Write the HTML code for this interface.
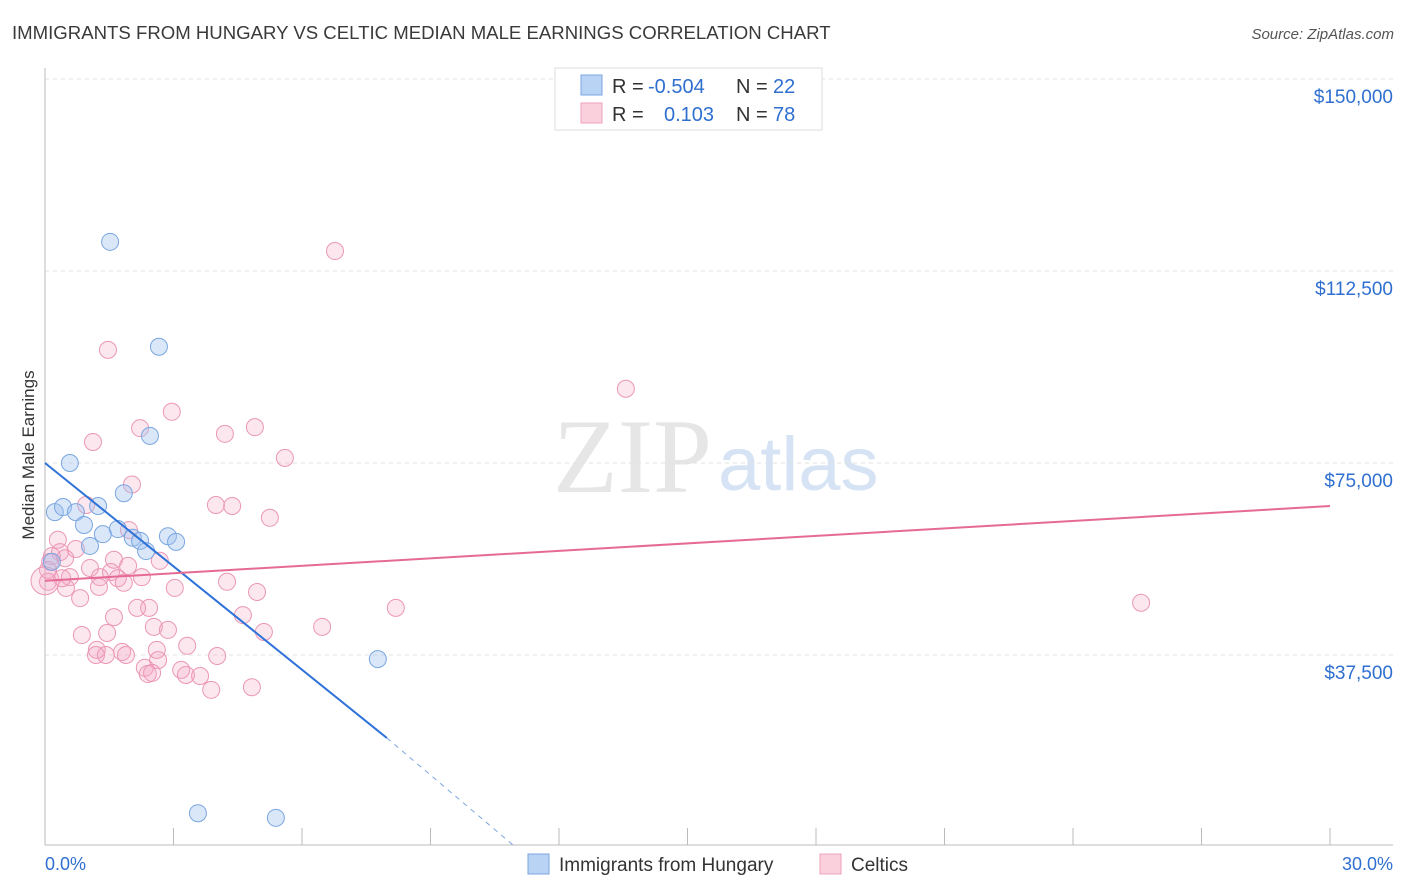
<!DOCTYPE html>
<html><head><meta charset="utf-8"><style>
body{margin:0;background:#fff;font-family:"Liberation Sans",sans-serif;}
#wrap{position:relative;width:1406px;height:892px;overflow:hidden;}
</style></head><body>
<div id="wrap">
<svg id="svg" width="1406" height="892" xmlns="http://www.w3.org/2000/svg">
<text x="12" y="39" font-size="18.6" fill="#3a3a3a">IMMIGRANTS FROM HUNGARY VS CELTIC MEDIAN MALE EARNINGS CORRELATION CHART</text>
<text x="1394" y="39" font-size="15" fill="#555" text-anchor="end" font-style="italic">Source: ZipAtlas.com</text>
<text x="34" y="455" font-size="17" fill="#333" text-anchor="middle" transform="rotate(-90 34 455)">Median Male Earnings</text>
<text x="553" y="492" font-size="106" fill="#e6e6e6" font-family="Liberation Serif,serif">ZIP</text>
<text x="718" y="490" font-size="76" fill="#d5e3f4">atlas</text>
<g id="grid"></g><g id="marks"></g>
<g>
<rect x="555" y="68" width="267" height="62" fill="#fff" stroke="#ddd"/>
<rect x="581" y="75" width="21" height="20" fill="#b9d3f5" stroke="#7aa6e0"/>
<rect x="581" y="103" width="21" height="20" fill="#fbd0dd" stroke="#eea3bb"/>
<text x="612" y="93" font-size="20" fill="#333">R = </text><text x="648" y="93" font-size="20" fill="#2f6fd0">-0.504</text>
<text x="736" y="93" font-size="20" fill="#333">N = </text><text x="773" y="93" font-size="20" fill="#2f6fd0">22</text>
<text x="612" y="121" font-size="20" fill="#333">R = </text><text x="664" y="121" font-size="20" fill="#2f6fd0">0.103</text>
<text x="736" y="121" font-size="20" fill="#333">N = </text><text x="773" y="121" font-size="20" fill="#2f6fd0">78</text>
</g>
<g>
<rect x="528" y="854" width="21" height="20" fill="#b9d3f5" stroke="#7aa6e0"/>
<text x="559" y="871" font-size="19" fill="#333">Immigrants from Hungary</text>
<rect x="820" y="854" width="21" height="20" fill="#fbd0dd" stroke="#eea3bb"/>
<text x="851" y="871" font-size="19" fill="#333">Celtics</text>
</g>
<text x="45" y="870" font-size="18" fill="#2f6fd0">0.0%</text>
<text x="1393" y="870" font-size="18" fill="#2f6fd0" text-anchor="end">30.0%</text>
</svg>
</div>
<script>
const yTicks=[37500,75000,112500,150000];
const yTickLabels=["$37,500","$75,000","$112,500","$150,000"];
const blueX=[1.52,2.66,2.45,0.58,1.84,0.23,0.42,1.24,0.72,0.91,1.70,1.35,2.05,2.87,2.22,3.06,1.05,2.36,7.77,3.57,5.39,0.16];
const blueY=[118.2,97.7,80.3,75.0,69.1,65.4,66.4,66.6,65.4,62.9,62.1,61.1,60.4,60.7,59.8,59.6,58.8,57.8,36.7,6.6,5.7,55.7];
const pinkX=[6.77,1.47,13.56,2.96,2.22,4.90,4.20,1.12,5.60,2.03,3.99,4.37,0.96,5.25,1.96,0.30,0.72,0.35,0.16,0.47,0.12,1.61,2.68,0.07,1.05,1.94,1.54,0.58,1.28,2.26,1.70,0.07,1.84,4.25,0.49,1.26,3.03,4.95,0.82,2.43,2.15,8.19,25.59,1.61,4.62,2.54,2.87,6.47,0.86,1.45,5.11,3.32,2.61,1.21,1.80,1.19,1.42,1.89,4.02,2.64,2.33,3.18,2.40,3.29,2.50,3.62,4.83,3.88,0.40];
const pinkY=[116.4,97.1,89.5,85.0,81.8,82.0,80.7,79.1,76.0,70.8,66.8,66.6,66.8,64.3,61.9,60.0,58.2,57.6,56.8,56.4,55.7,56.1,55.9,54.1,54.5,54.9,53.7,52.7,52.7,52.7,52.5,51.8,51.6,51.8,50.6,50.8,50.6,49.8,48.6,46.7,46.7,46.7,47.7,44.9,45.3,43.0,42.4,43.0,41.4,41.8,42.0,39.3,38.5,38.5,38.1,37.5,37.5,37.5,37.3,36.5,35.0,34.6,33.8,33.6,34.0,33.4,31.2,30.7,52.5];
const blueTrend=[75.0,21.3,0];const blueTrendX=[0,7.98,10.98];
const pinkTrend=[52.0,66.6];const pinkTrendX=[0,30];
const xTicks=[0,3,6,9,12,15,18,21,24,27,30];
const X=v=>45+v/30*1285, Y=v=>847-v/37.5*192;
const NS="http://www.w3.org/2000/svg";
function mk(t,a,p){const e=document.createElementNS(NS,t);for(const k in a)e.setAttribute(k,a[k]);p.appendChild(e);return e;}
const g=document.getElementById('grid'),m=document.getElementById('marks');
yTicks.forEach((t,i)=>{
 const l=mk('line',{x1:45,x2:1393,y1:Y(t/1000),y2:Y(t/1000),stroke:'#e2e2e2','stroke-dasharray':'4,4'},g);
 
 
 const tx=mk('text',{x:1393,y:Y(t/1000)+24,'font-size':19,fill:'#2f6fd0','text-anchor':'end'},g);tx.textContent=yTickLabels[i];
 
 
});
const topLine=mk('line',{x1:45,x2:1393,y1:79,y2:79,stroke:'#e2e2e2','stroke-dasharray':'4,4'},g);


const ax=mk('line',{x1:45,x2:45,y1:68,y2:845,stroke:'#bbb'},g);


const bx=mk('line',{x1:45,x2:1393,y1:845,y2:845,stroke:'#bbb'},g);


xTicks.forEach(t=>{const l=mk('line',{x1:X(t),x2:X(t),y1:828,y2:845,stroke:'#bbb'},g);
 
 });
pinkX.forEach((x,i)=>{const c=mk('circle',{cx:X(x),cy:Y(pinkY[i]),r:8.5,fill:'rgba(244,160,190,0.25)',stroke:'#eb97b4','stroke-width':1},m);
 
 });
const big=mk('circle',{cx:X(0),cy:Y(52),r:14,fill:'rgba(244,160,190,0.25)',stroke:'#eb97b4'},m);


blueX.forEach((x,i)=>{const c=mk('circle',{cx:X(x),cy:Y(blueY[i]),r:8.5,fill:'rgba(160,195,240,0.4)',stroke:'#7aa6e0','stroke-width':1},m);
 
 });
const bl=mk('line',{x1:X(blueTrendX[0]),y1:Y(blueTrend[0]),x2:X(blueTrendX[1]),y2:Y(blueTrend[1]),stroke:'#2f72d8','stroke-width':2},m);


const bd=mk('line',{x1:X(blueTrendX[1]),y1:Y(blueTrend[1]),x2:X(blueTrendX[2]),y2:Y(blueTrend[2]),stroke:'#7aa6e0','stroke-width':1,'stroke-dasharray':'5,5'},m);


const pl=mk('line',{x1:X(pinkTrendX[0]),y1:Y(pinkTrend[0]),x2:X(pinkTrendX[1]),y2:Y(pinkTrend[1]),stroke:'#e56a95','stroke-width':2},m);


</script>
</body></html>
